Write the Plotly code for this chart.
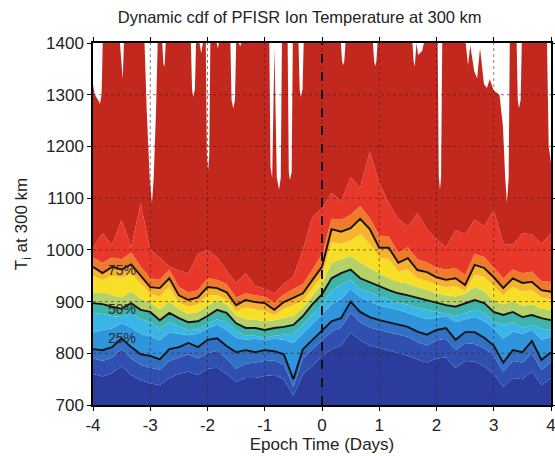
import plotly.graph_objects as go

# epoch grid: 4-hour samples from -4 to +4 days
EPOCH_HOURS = list(range(-96, 97, 4))
EPOCH_DAYS = [h / 24 for h in EPOCH_HOURS]

# percentiles of Ti (K) at each epoch sample
Q10 = [760, 755, 762, 775, 758, 748, 742,
       738, 752, 760, 765, 758, 770, 772,
       760, 745, 752, 752, 756, 758, 750,
       718, 760, 775, 795, 808, 815, 840,
       825, 815, 810, 805, 800, 795, 788,
       782, 790, 792, 772, 785, 784, 775,
       760, 735, 752, 750, 765, 738, 752]
Q20 = [790, 785, 792, 808, 790, 778, 772,
       768, 785, 792, 798, 790, 800, 805,
       790, 770, 780, 782, 785, 786, 778,
       735, 790, 808, 825, 842, 850, 878,
       860, 850, 845, 840, 836, 832, 822,
       815, 825, 828, 806, 820, 818, 810,
       795, 765, 785, 782, 800, 768, 782]
Q25 = [808, 806, 812, 829, 812, 798, 795,
       788, 808, 812, 820, 812, 826, 829,
       814, 802, 806, 802, 806, 804, 798,
       750, 808, 826, 842, 862, 868, 900,
       880, 870, 864, 860, 855, 851, 842,
       836, 845, 849, 826, 841, 841, 830,
       815, 782, 806, 802, 824, 787, 802]
Q35 = [840, 845, 848, 858, 850, 838, 832,
       825, 840, 838, 835, 838, 848, 855,
       845, 830, 826, 828, 825, 828, 826,
       820, 838, 858, 875, 895, 905, 925,
       908, 900, 892, 888, 884, 878, 872,
       866, 868, 872, 860, 866, 870, 862,
       848, 828, 842, 838, 845, 826, 832]
Q45 = [878, 876, 872, 870, 878, 866, 860,
       848, 860, 852, 845, 846, 856, 866,
       860, 842, 834, 834, 830, 834, 836,
       838, 855, 876, 895, 922, 932, 942,
       925, 918, 910, 904, 898, 894, 888,
       884, 880, 876, 872, 878, 884, 878,
       862, 855, 860, 850, 855, 848, 845]
Q50 = [897, 895, 890, 886, 897, 884, 880,
       864, 878, 868, 860, 862, 872, 884,
       878, 858, 849, 849, 845, 849, 851,
       855, 872, 895, 914, 945, 955, 962,
       945, 938, 930, 922, 916, 912, 907,
       902, 897, 893, 890, 897, 903, 897,
       880, 874, 880, 870, 874, 868, 864]
Q60 = [917, 918, 912, 908, 920, 905, 898,
       885, 900, 885, 876, 880, 892, 902,
       895, 873, 866, 865, 862, 864, 868,
       872, 888, 912, 935, 975, 982, 988,
       975, 965, 955, 945, 938, 935, 928,
       922, 916, 912, 910, 915, 928, 920,
       902, 895, 900, 892, 895, 886, 884]
Q70 = [950, 942, 950, 946, 955, 936, 915,
       910, 928, 898, 890, 895, 912, 912,
       904, 882, 888, 885, 882, 874, 886,
       893, 902, 926, 950, 1015, 1012, 1018,
       1030, 1012, 985, 982, 958, 962, 945,
       940, 932, 928, 930, 920, 952, 948,
       930, 912, 928, 920, 922, 908, 904]
Q75 = [967, 955, 967, 962, 972, 951, 928,
       926, 945, 912, 903, 908, 928, 926,
       918, 893, 903, 899, 897, 884, 899,
       907, 916, 942, 967, 1040, 1035, 1042,
       1060, 1040, 1004, 1004, 975, 984, 961,
       957, 947, 942, 945, 932, 971, 965,
       947, 926, 945, 936, 938, 922, 919]
Q85 = [985, 975, 985, 982, 995, 968, 945,
       942, 962, 928, 918, 922, 945, 942,
       934, 908, 916, 912, 910, 898, 914,
       924, 934, 962, 992, 1060, 1058, 1068,
       1085, 1062, 1028, 1026, 995, 1005, 982,
       976, 966, 962, 965, 952, 992, 986,
       966, 945, 962, 955, 958, 940, 938]
Q95 = [1005, 1032, 1010, 1058, 1005, 1090, 1000,
       985, 968, 960, 955, 992, 1000, 985,
       960, 936, 955, 930, 925, 915, 935,
       948, 1000, 1064, 1080, 1110, 1095, 1140,
       1120, 1190, 1130, 1090, 1060, 1045, 1071,
       1040, 1020, 1005, 1038, 1030, 1058, 1045,
       1077, 1012, 1010, 1032, 1030, 1012, 1032]

# running maximum of Ti (white gaps where it stays below 1400 K)
MAX_DAYS = [-4.00, -3.97, -3.91, -3.88, -3.85, -3.83,
            -3.53, -3.50, -3.48, -3.46,
            -3.10, -3.06, -3.01, -2.97, -2.94, -2.90, -2.87,
            -2.79, -2.77, -2.75, -2.73,
            -2.29, -2.27, -2.25, -2.22, -2.20,
            -2.14, -2.11, -2.08,
            -2.03, -2.01, -1.99, -1.97, -1.95,
            -1.84, -1.82, -1.80,
            -1.60, -1.58, -1.55, -1.52, -1.50,
            -1.45, -1.43, -1.41,
            -0.92, -0.90, -0.87, -0.83, -0.79, -0.75, -0.72, -0.70,
            -0.60, -0.58, -0.56, -0.53, -0.51,
            -0.41, -0.39, -0.37, -0.34, -0.32,
            0.33, 0.35, 0.37, 0.39, 0.41,
            0.89, 0.91, 0.93, 0.95, 0.97,
            1.58, 1.60, 1.62, 1.65, 1.68, 1.75, 1.78,
            2.02, 2.04, 2.06, 2.08, 2.10,
            2.51, 2.55, 2.59, 2.66, 2.71, 2.76, 2.83, 2.88, 2.93, 3.00,
            3.10, 3.16, 3.20, 3.23, 3.26, 3.28,
            3.40, 3.42, 3.44, 3.47, 3.49,
            3.93, 3.96, 4.00]
MAX_TI = [1320, 1300, 1290, 1282, 1300, 1400,
          1400, 1345, 1330, 1400,
          1400, 1265, 1140, 1090, 1140, 1265, 1400,
          1400, 1360, 1354, 1400,
          1400, 1310, 1296, 1310, 1400,
          1400, 1380, 1400,
          1400, 1180, 1154, 1180, 1400,
          1400, 1390, 1400,
          1400, 1290, 1274, 1290, 1400,
          1400, 1393, 1400,
          1400, 1160, 1139, 1390, 1140, 1116, 1140, 1400,
          1400, 1150, 1135, 1150, 1400,
          1400, 1310, 1296, 1310, 1400,
          1400, 1365, 1357, 1365, 1400,
          1400, 1365, 1355, 1365, 1400,
          1400, 1365, 1354, 1400, 1377, 1385, 1400,
          1400, 1140, 1116, 1140, 1400,
          1400, 1357, 1395, 1345, 1332, 1390, 1320, 1313, 1330, 1308,
          1300, 1240, 1140, 1090, 1140, 1400,
          1400, 1290, 1274, 1290, 1400,
          1400, 1200, 1168]

BANDS = [Q10, Q20, Q25, Q35, Q45, Q50, Q60, Q70, Q75, Q85, Q95]
BAND_COLORS = ["#2b3c9c", "#2f50b0", "#3270c5", "#2f95dc", "#3ab6e6", "#3fb4aa",
               "#b5d26a", "#f6df26", "#f7b22e", "#f07a2c", "#e8382a"]
TOP_COLOR = "#c3281f"

LABELED = [(Q25, "25%"), (Q50, "50%"), (Q75, "75%")]
LABEL_IDX = 3

X_TICKS = [-4, -3, -2, -1, 0, 1, 2, 3, 4]
Y_TICKS = [700, 800, 900, 1000, 1100, 1200, 1300, 1400]

FONT = "Liberation Sans, Arial, Helvetica, sans-serif"

fig = go.Figure()

for k, (vals, col) in enumerate(zip(BANDS, BAND_COLORS)):
    fig.add_trace(go.Scatter(
        x=EPOCH_DAYS, y=vals, mode="lines",
        line=dict(width=0, color=col),
        fill="tozeroy" if k == 0 else "tonexty", fillcolor=col,
        hoverinfo="skip",
    ))

fig.add_trace(go.Scatter(
    x=MAX_DAYS, y=MAX_TI, mode="lines",
    line=dict(width=0, color=TOP_COLOR),
    fill="tonexty", fillcolor=TOP_COLOR, hoverinfo="skip",
))

for vals, lab in LABELED:
    fig.add_trace(go.Scatter(
        x=EPOCH_DAYS, y=vals, mode="lines",
        line=dict(color="#141414", width=1.9),
    ))
    fig.add_annotation(x=EPOCH_DAYS[LABEL_IDX], y=vals[LABEL_IDX], text=lab,
                       showarrow=False, font=dict(size=14, color="#2a2a2a"))

# dotted grid drawn over the filled bands
for v in Y_TICKS[1:-1]:
    fig.add_shape(type="line", xref="paper", x0=0, x1=1, yref="y", y0=v, y1=v,
                  line=dict(color="rgba(70,30,30,0.6)", width=1, dash="dot"),
                  layer="above")
for v in X_TICKS[1:-1]:
    fig.add_shape(type="line", yref="paper", y0=0, y1=1, xref="x", x0=v, x1=v,
                  line=dict(color="rgba(70,30,30,0.6)", width=1, dash="dot"),
                  layer="above")
fig.add_shape(type="line", yref="paper", y0=0, y1=1, xref="x", x0=0, x1=0,
              line=dict(color="#111", width=2, dash="dash"), layer="above")

fig.update_layout(
    width=555, height=456,
    margin=dict(l=93, r=4, t=43, b=51),
    paper_bgcolor="white", plot_bgcolor="white",
    font=dict(family=FONT, size=17, color="#222"),
    showlegend=False,
    title=dict(text="Dynamic cdf of PFISR Ion Temperature at 300 km",
               x=0.54, xanchor="center", y=0.962, yanchor="middle",
               font=dict(size=16.5, family=FONT, color="#222")),
)
fig.update_xaxes(
    range=[-4, 4], tickvals=X_TICKS, ticktext=[str(v) for v in X_TICKS],
    ticks="outside", ticklen=4, tickcolor="black", ticklabeloverflow="allow",
    showline=True, mirror="ticks", linecolor="black", linewidth=1.5,
    showgrid=False, zeroline=False, automargin=False,
    title=dict(text="Epoch Time (Days)", standoff=2, font=dict(size=17)),
)
fig.update_yaxes(
    range=[700, 1400], tickvals=Y_TICKS,
    ticks="outside", ticklen=4, tickcolor="black",
    showline=True, mirror="ticks", linecolor="black", linewidth=1.5,
    showgrid=False, zeroline=False, automargin=False,
    title=dict(text="T<sub>i</sub> at 300 km", standoff=14, font=dict(size=17)),
)

# the page's default body margin would shift the figure off the window
fig.write_html("out.html", config={"displayModeBar": False},
               post_script="document.body.style.margin='0';")
